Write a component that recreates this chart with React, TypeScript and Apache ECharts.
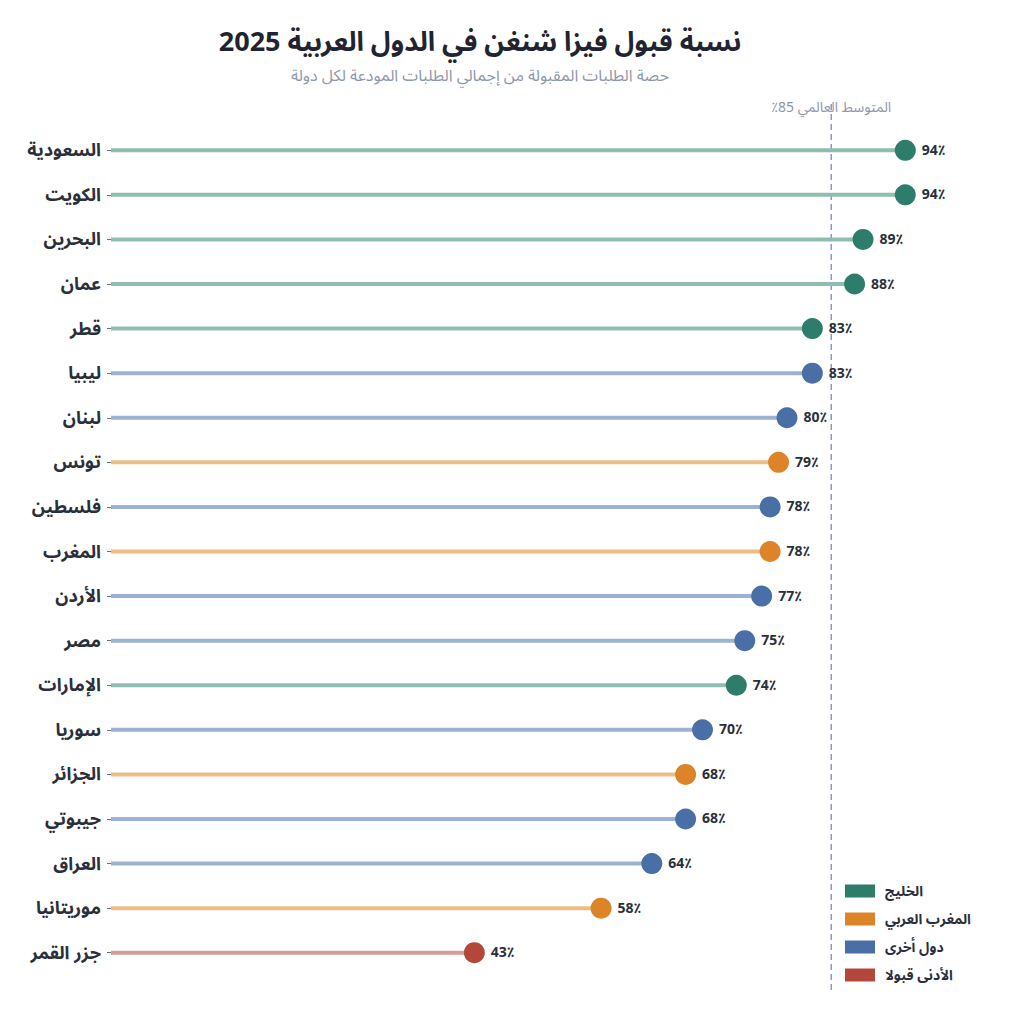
import React, { useEffect, useRef } from "react";
import * as echarts from "echarts";

const categories = [
  "السعودية", "الكويت", "البحرين", "عمان", "قطر", "ليبيا", "لبنان", "تونس",
  "فلسطين", "المغرب", "الأردن", "مصر", "الإمارات", "سوريا", "الجزائر",
  "جيبوتي", "العراق", "موريتانيا", "جزر القمر",
];
const acceptance = [94, 94, 89, 88, 83, 83, 80, 79, 78, 78, 77, 75, 74, 70, 68, 68, 64, 58, 43];
const regionOf = [
  "gulf", "gulf", "gulf", "gulf", "gulf", "other", "other", "maghreb",
  "other", "maghreb", "other", "other", "gulf", "other", "maghreb",
  "other", "other", "maghreb", "lowest",
];
const regionKeys = ["gulf", "maghreb", "other", "lowest"];
const regionNames = ["الخليج", "المغرب العربي", "دول أخرى", "الأدنى قبولا"];
const regionColors = ["#2e7d6b", "#dc8427", "#4a6ea6", "#b3473a"];
const stemColors = ["#8fbdb1", "#ecbd86", "#9db2d2", "#d99b94"];
const worldAverage = 85;

const FONT = "'Noto Sans Arabic', 'Noto Sans Arabic UI', 'Noto Naskh Arabic', 'Noto Sans', 'DejaVu Sans', sans-serif";

export default function App() {
  const ref = useRef<HTMLDivElement>(null);

  useEffect(() => {
    if (!ref.current) return;
    const chart = echarts.init(ref.current, undefined, { renderer: "svg" });

    const stemData = acceptance.map((v, i) => ({
      value: v,
      itemStyle: { color: stemColors[regionKeys.indexOf(regionOf[i])] },
    }));

    const dotSeries = regionKeys.map((key, k) => ({
      type: "scatter",
      name: regionNames[k],
      symbol: "circle",
      symbolSize: 21,
      z: 5,
      itemStyle: { color: regionColors[k], opacity: 1 },
      data: acceptance
        .map((v, i) => (regionOf[i] === key ? [v, i] : null))
        .filter((d) => d !== null),
      label: {
        show: true,
        position: "right",
        distance: 6,
        formatter: (p: any) => `${p.value[0]}٪`,
        color: "#2a2f3a",
        fontSize: 14,
        fontWeight: "bold",
        fontFamily: FONT,
      },
    }));

    chart.setOption({
      animation: false,
      backgroundColor: "#ffffff",
      title: [
        {
          text: "نسبة قبول فيزا شنغن في الدول العربية 2025",
          left: 475,
          top: 22,
          textAlign: "center",
          textStyle: {
            fontSize: 27,
            lineHeight: 30,
            fontWeight: "bold",
            color: "#1f2430",
            fontFamily: FONT,
          },
        },
        {
          text: "حصة الطلبات المقبولة من إجمالي الطلبات المودعة لكل دولة",
          left: 475,
          top: 62,
          textAlign: "center",
          textStyle: {
            fontSize: 16,
            lineHeight: 18,
            fontWeight: "normal",
            color: "#8d97ab",
            fontFamily: FONT,
          },
        },
      ],
      legend: {
        orient: "vertical",
        left: 840,
        top: 878,
        itemWidth: 30,
        itemHeight: 13,
        itemGap: 12,
        icon: "rect",
        data: regionNames,
        textStyle: {
          fontSize: 14,
          lineHeight: 16,
          fontWeight: "bold",
          color: "#2a2f3a",
          fontFamily: FONT,
          padding: [0, 0, 0, 5],
        },
      },
      grid: { left: 111, right: 61, top: 128, bottom: 45, containLabel: false },
      xAxis: {
        type: "value",
        min: 0,
        max: 100,
        show: false,
      },
      yAxis: {
        type: "category",
        data: categories,
        inverse: true,
        axisLine: { show: false },
        axisTick: { show: true, length: 4, alignWithLabel: true, lineStyle: { color: "#6b7280" } },
        axisLabel: {
          margin: 10,
          fontSize: 18,
          lineHeight: 20,
          fontWeight: "bold",
          color: "#2a2f3a",
          fontFamily: FONT,
        },
        splitLine: { show: false },
      },
      series: [
        {
          type: "bar",
          name: "stem",
          barWidth: 4,
          z: 2,
          data: stemData,
          silent: true,
          legendHoverLink: false,
        },
        ...dotSeries,
      ],
    });

    // reference line for the world average, spanning beyond the plot area
    const xAvg = (chart.convertToPixel({ xAxisIndex: 0 }, worldAverage) as number) + 2;
    chart.setOption({
      graphic: [
        {
          type: "line",
          z: 1,
          shape: { x1: xAvg, y1: 104, x2: xAvg, y2: 993 },
          style: { stroke: "#8f97b8", lineWidth: 1.5, lineDash: [6, 4] },
        },
        {
          type: "text",
          z: 10,
          x: xAvg,
          y: 107,
          style: {
            text: `\u202Bالمتوسط العالمي ${worldAverage}٪\u202C`,
            fill: "#8d97ab",
            fontSize: 14,
            fontFamily: FONT,
            align: "center",
            verticalAlign: "middle",
          },
        },
      ],
    });

    return () => chart.dispose();
  }, []);

  return (
    <div
      ref={ref}
      style={{ position: "fixed", left: 0, top: 0, width: 1017, height: 1020, background: "#fff" }}
    />
  );
}
